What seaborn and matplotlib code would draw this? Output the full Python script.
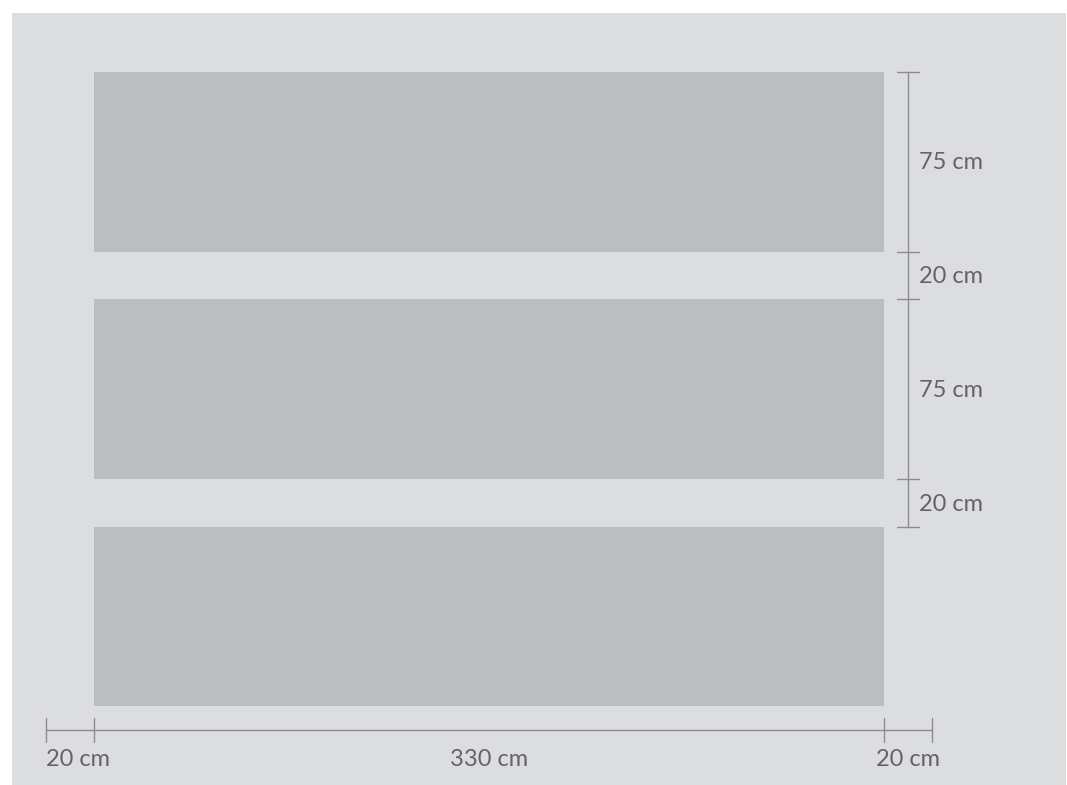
import numpy as np
import pandas as pd
import seaborn as sns
from matplotlib import pyplot as plt
from matplotlib.patches import Rectangle

# shelf / bar sizes in cm
bar_names = ['A', 'B', 'C']
bar_lengths = [330, 330, 330]
bar_heights = [75, 75, 75]
gap = 20

# dimension annotations
v_segments = [75, 20, 75, 20]
v_labels = ['75 cm', '20 cm', '75 cm', '20 cm']
h_segments = [20, 330, 20]
h_labels = ['20 cm', '330 cm', '20 cm']

bg_color = '#dcdddf'
bar_color = '#bcbdc0'
line_color = '#8c8c8e'
text_color = '#646466'

# centres of the bars along y (cm, top down)
tops = np.cumsum([0] + [h + gap for h in bar_heights[:-1]])
centres = tops + np.array(bar_heights) / 2
df = pd.DataFrame({'name': bar_names, 'length': bar_lengths, 'pos': centres})

sns.set_theme(style='white')
plt.rcParams['font.family'] = ['Lato', 'DejaVu Sans']

fig = plt.figure(figsize=(10.67, 7.85), dpi=100)
ax = fig.add_axes([0, 0, 1, 1])
scale = 2.394  # px per cm

# background panel
ax.add_patch(Rectangle((-82 / scale, -59 / scale), 1054 / scale, 800 / scale,
                       color=bg_color, zorder=0, lw=0))

sns.barplot(data=df, x='length', y='pos', orient='h', native_scale=True,
            width=bar_heights[0] / (bar_heights[0] + gap), color=bar_color,
            saturation=1, ax=ax, zorder=2, linewidth=0)
ax.set_xlim(-94 / scale, (1067 - 94) / scale)
ax.set_ylim((785 - 72) / scale, -72 / scale)
ax.axis('off')

fs = 17
lw = 1.0

# vertical dimension line on the right
vx = max(bar_lengths) + 10
vb = np.cumsum([0] + v_segments)
ax.plot([vx, vx], [vb[0], vb[-1]], color=line_color, lw=lw, zorder=3)
for b in vb:
    ax.plot([vx - 4.6, vx + 4.6], [b, b], color=line_color, lw=lw, zorder=3)
for i, lab in enumerate(v_labels):
    ax.text(vx + 4.6, (vb[i] + vb[i + 1]) / 2 + 0.5, lab, color=text_color,
            fontsize=fs, fontweight='normal', ha='left', va='center')

# horizontal dimension line at the bottom
total_h = sum(bar_heights) + gap * (len(bar_heights) - 1)
hy = total_h + 10
hb = np.cumsum([-h_segments[0]] + h_segments)
ax.plot([hb[0], hb[-1]], [hy, hy], color=line_color, lw=lw, zorder=3)
for b in hb:
    ax.plot([b, b], [hy - 5, hy + 5], color=line_color, lw=lw, zorder=3)
for i, lab in enumerate(h_labels):
    if i == 0:
        ax.text(hb[i], hy + 12, lab, color=text_color, fontsize=fs,
                fontweight='normal', ha='left', va='center')
    else:
        ax.text((hb[i] + hb[i + 1]) / 2, hy + 12, lab, color=text_color,
                fontsize=fs, fontweight='normal', ha='center', va='center')

fig.savefig('out.png', dpi=100, facecolor='white')
